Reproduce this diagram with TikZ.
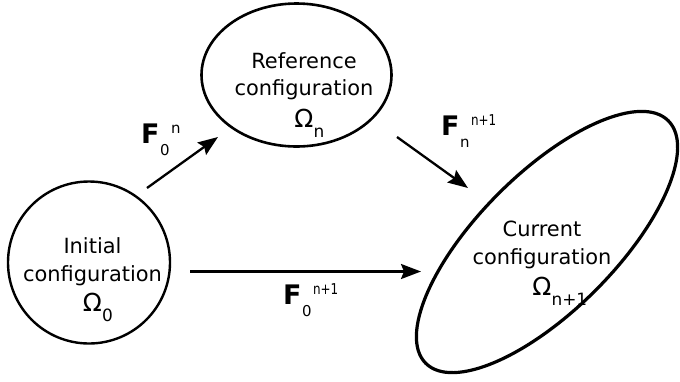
\documentclass[tikz,border=0pt]{standalone}
\usepackage{fontspec}
\usepackage{graphicx}
\setmainfont{DejaVu Sans}
\usetikzlibrary{shapes.geometric,arrows.meta}
\newcommand{\Flab}[2]{{\fontsize{27}{27}\selectfont\bfseries F}\kern0.5bp\raisebox{-12bp}{\fontsize{15}{15}\selectfont #1}\kern1.5bp\raisebox{10bp}{\fontsize{15}{15}\selectfont #2}}
\newcommand{\omg}[1]{{\fontsize{25}{25}\selectfont Ω}\rlap{\raisebox{-10bp}{\fontsize{17}{17}\selectfont #1}}}
\newcommand{\npo}{\scalebox{0.8}[1]{n+1}}
\begin{document}
\begin{tikzpicture}[x=1bp,y=-1bp,
  shapeline/.style={draw=black, line width=2.4bp, inner sep=0pt, outer sep=0pt},
  txt/.style={font=\fontsize{21}{28}\selectfont, align=center, inner sep=0pt, anchor=north},
  flabel/.style={inner sep=0pt, anchor=base west},
  conn/.style={line width=2.3bp, -{Stealth[length=20bp,width=15bp,inset=3bp]}},
]
\useasboundingbox (0,0) rectangle (680,381);
% shapes
\node[shapeline, circle, minimum size=162bp] (init) at (89,262.5) {};
\node[shapeline, ellipse, line width=2.6bp, minimum width=190bp, minimum height=143bp] (ref) at (296.5,75) {};
\node[shapeline, ellipse, line width=3.2bp, rotate=45, minimum width=343bp, minimum height=137bp] (cur) at (547,242) {};
% texts
\node[txt] (tinit) at (92.5,237) {Initial\\configuration\\[3bp]\omg{0}};
\node[txt] (tref) at (304,52) {Reference\\configuration\\[4bp]\omg{n}};
\node[txt] (tcur) at (542,221) {Current\\configuration\\[3bp]\omg{n+1}};
% connector ends
\coordinate (a1s) at (147,188);
\coordinate (a1e) at (218,137);
\coordinate (a2s) at (397,137);
\coordinate (a2e) at (468,188);
\coordinate (a3s) at (190,271.5);
\coordinate (a3e) at (421,271.5);
\draw[conn] (a1s) -- (a1e);
\draw[conn] (a2s) -- (a2e);
\draw[conn] (a3s) -- (a3e);
% labels
\node[flabel] (f1) at (141,143) {\Flab{0}{n}};
\node[flabel] (f2) at (441,135) {\Flab{n}{\npo}};
\node[flabel] (f3) at (283,304) {\Flab{0}{\npo}};
\end{tikzpicture}
\end{document}
